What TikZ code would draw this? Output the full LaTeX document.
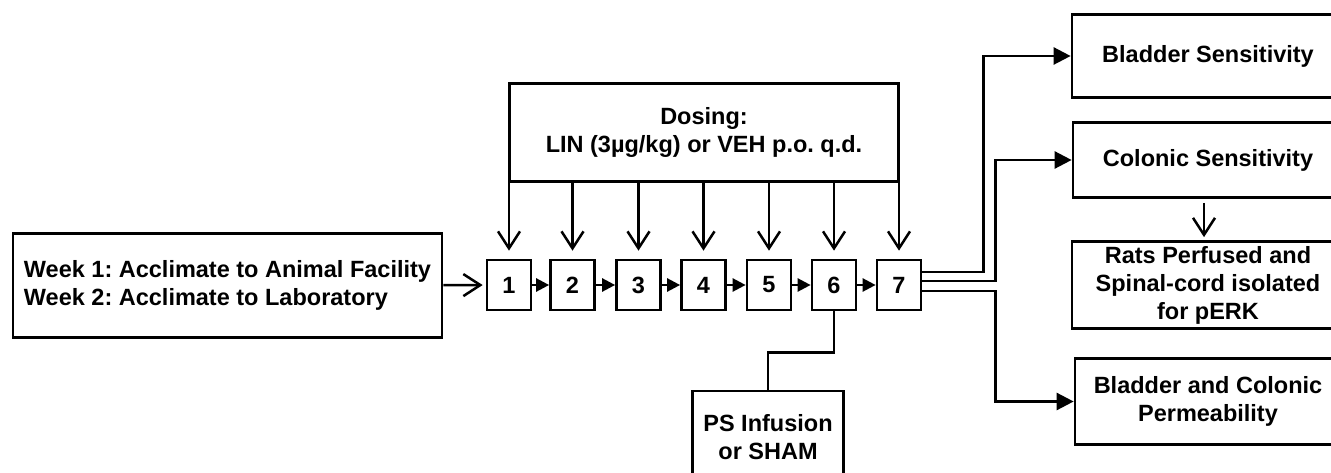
\documentclass[tikz,border=0pt]{standalone}
\usepackage{fontspec}
\setmainfont{Liberation Sans}
\usetikzlibrary{arrows.meta,calc}
\begin{document}
\frenchspacing
\begin{tikzpicture}[x=1pt,y=-1pt,
  box/.style={draw,line width=2.7pt,inner sep=0pt,align=center,
    font=\fontsize{23.5}{28}\selectfont\bfseries},
  daybox/.style={box,minimum width=44pt,minimum height=50pt},
  conn/.style={line width=2.5pt},
  vhead/.style={conn,-{Straight Barb[length=17pt,width=22pt]}},
  smallhead/.style={conn,-{Triangle[length=13pt,width=13pt]}},
  bighead/.style={conn,-{Triangle[length=17pt,width=17pt]}}
]
\useasboundingbox (0,0) rectangle (1331,473);
\clip (0,0) rectangle (1331,473);
\fill[white] (0,0) rectangle (1331,473);

\node[box,align=left,minimum width=429pt,minimum height=104pt] (wk) at (227.5,285.5)
  {Week 1: Acclimate to Animal Facility\\Week 2: Acclimate to Laboratory};

\node[daybox] (b1) at (509,285) {1};
\node[daybox] (b2) at (572.5,285) {2};
\node[daybox] (b3) at (638.5,285) {3};
\node[daybox] (b4) at (703.5,285) {4};
\node[daybox] (b5) at (769,285) {5};
\node[daybox] (b6) at (834,285) {6};
\node[daybox] (b7) at (899,285) {7};

\node[box,minimum width=389pt,minimum height=98pt] (dose) at (704,132.5)
  {Dosing:\\LIN (3µg/kg) or VEH p.o. q.d.};

\node[box,minimum width=272pt,minimum height=83pt] (bs) at (1208,56) {Bladder Sensitivity};
\node[box,minimum width=270pt,minimum height=75pt] (cs) at (1208,160) {Colonic Sensitivity};
\node[box,minimum width=272pt,minimum height=87pt] (rp) at (1208,285)
  {Rats Perfused and\\Spinal-cord isolated\\for pERK};
\node[box,minimum width=266pt,minimum height=86pt] (pm) at (1208,401.5)
  {Bladder and Colonic\\Permeability};

\node[box,minimum width=151pt,minimum height=93pt] (ps) at (768,437.5)
  {PS Infusion\\or SHAM};

% acclimation to day 1
\draw[vhead,shorten >=3pt] (wk) -- (b1);
% day to day
\foreach \a/\b in {b1/b2,b2/b3,b3/b4,b4/b5,b5/b6,b6/b7}
  \draw[smallhead] (\a) -- (\b);
% dosing arrows
\foreach \d in {b1,b2,b3,b4,b5,b6,b7}
  \draw[vhead,shorten >=8pt] (\d.north |- dose.south) -- (\d.north);
% PS infusion
\draw[conn] (b6.south) -- ++(0,41) -| (ps.north);
% outcomes
\draw[bighead] ($(b7.east)+(0,-13)$) -| ([xshift=-87pt]bs.west) -- (bs.west);
\draw[bighead] ($(b7.east)+(0,-4)$) -| ([xshift=-76pt]cs.west) -- (cs.west);
\draw[bighead] ($(b7.east)+(0,6)$) -| ([xshift=-78pt]pm.west) -- (pm.west);
\draw[vhead,shorten <=4pt,shorten >=3pt] ([xshift=-4pt]cs.south) -- ([xshift=-4pt]rp.north);
\end{tikzpicture}
\end{document}
